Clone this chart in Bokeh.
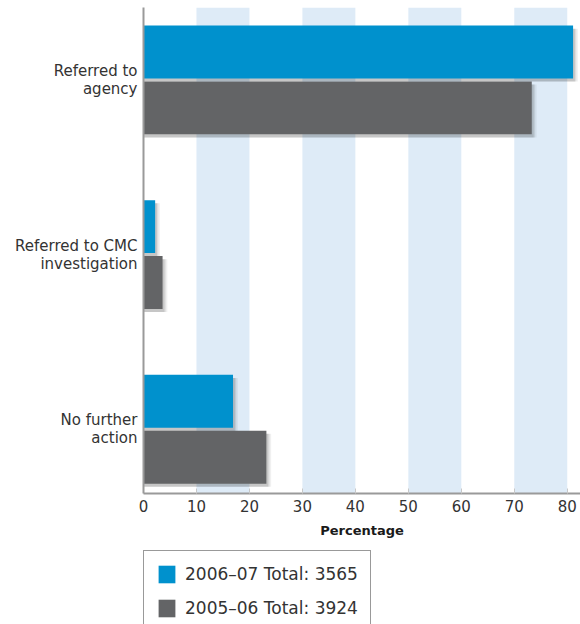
import numpy as np
from bokeh.plotting import figure
from bokeh.layouts import column
from bokeh.models import (Range1d, FixedTicker, BoxAnnotation, Legend, LegendItem)
from bokeh.embed import file_html
from bokeh.resources import INLINE

# ---- data ----
categories = ["Referred to\nagency", "Referred to CMC\ninvestigation", "No further\naction"]
series_names = ["2006\u201307 Total: 3565", "2005\u201306 Total: 3924"]
values_2006_07 = [81.1, 2.2, 16.9]
values_2005_06 = [73.3, 3.6, 23.2]
x_ticks = [0, 10, 20, 30, 40, 50, 60, 70, 80]
band_starts = [10, 30, 50, 70]

BLUE = "#0091cd"
GREY = "#636466"
BAND = "#deebf7"
FONT = "DejaVu Sans"

pos = np.arange(len(categories))
offset = 0.16
bar_h = 0.303

p = figure(width=580, height=540, output_backend="svg", toolbar_location=None,
           x_range=Range1d(0, 82.5), y_range=Range1d(2.368, -0.4145),
           min_border_left=143, min_border_right=0, min_border_top=7, min_border_bottom=0)
p.background_fill_color = "white"
p.border_fill_color = "white"
p.outline_line_color = None
p.grid.grid_line_color = None

for b in band_starts:
    p.add_layout(BoxAnnotation(left=b, right=b + 10, fill_color=BAND, fill_alpha=1.0,
                               line_color=None, level="underlay"))

# soft shadows
for k, a in [(0.9, 0.06), (0.6, 0.08), (0.35, 0.10)]:
    p.hbar(y=pos - offset + 0.018, left=0, right=np.array(values_2006_07) + k,
           height=bar_h, color="black", alpha=a, line_color=None)
    p.hbar(y=pos + offset + 0.018, left=0, right=np.array(values_2005_06) + k,
           height=bar_h, color="black", alpha=a, line_color=None)

p.hbar(y=pos - offset, left=0, right=values_2006_07, height=bar_h,
       color=BLUE, line_color=None)
p.hbar(y=pos + offset, left=0, right=values_2005_06, height=bar_h,
       color=GREY, line_color=None)

# x axis
xa = p.xaxis[0]
xa.ticker = FixedTicker(ticks=x_ticks)
xa.minor_tick_line_color = None
xa.major_tick_in = 5
xa.major_tick_out = 0
xa.major_tick_line_color = "#c8c8c8"
xa.axis_line_color = "#9a9a9a"
xa.axis_line_width = 2
xa.major_label_text_font = FONT
xa.major_label_text_font_size = "15px"
xa.major_label_text_color = "#333333"
xa.major_label_standoff = 6
xa.axis_label = "Percentage"
xa.axis_label_text_font = FONT
xa.axis_label_text_font_size = "13px"
xa.axis_label_text_font_style = "bold"
xa.axis_label_text_color = "#1a1a1a"
xa.axis_label_standoff = 8

# y axis
ya = p.yaxis[0]
ya.ticker = FixedTicker(ticks=list(pos))
ya.major_label_overrides = {int(i): c for i, c in zip(pos, categories)}
ya.minor_tick_line_color = None
ya.major_tick_line_color = None
ya.major_tick_in = 0
ya.major_tick_out = 0
ya.axis_line_color = "#9a9a9a"
ya.axis_line_width = 2
ya.major_label_text_font = FONT
ya.major_label_text_font_size = "15px"
ya.major_label_text_line_height = 1.0
ya.major_label_text_color = "#333333"
ya.major_label_standoff = 6

# legend figure (legend sits below the chart)
lf = figure(width=580, height=84, output_backend="svg", toolbar_location=None,
            x_range=Range1d(0, 1), y_range=Range1d(0, 1),
            min_border_left=142, min_border_right=0, min_border_top=10, min_border_bottom=0)
lf.axis.visible = False
lf.grid.grid_line_color = None
lf.outline_line_color = None
lf.background_fill_color = "white"
lf.border_fill_color = "white"
# legend proxies placed outside the visible range
l1 = lf.quad(left=[5], right=[6], bottom=[5], top=[6], fill_color=BLUE, line_color=None)
l2 = lf.quad(left=[5], right=[6], bottom=[5], top=[6], fill_color=GREY, line_color=None)

legend = Legend(items=[LegendItem(label=series_names[0], renderers=[l1]),
                       LegendItem(label=series_names[1], renderers=[l2])],
                location="top_left", orientation="vertical",
                glyph_width=21, glyph_height=22, label_height=22, spacing=12,
                padding=12, margin=0, label_standoff=8,
                label_text_font=FONT, label_text_font_size="17px",
                label_text_color="#333333",
                border_line_color="#333333", border_line_width=1.5,
                background_fill_color="white", background_fill_alpha=1.0)
lf.add_layout(legend, "center")

open("out.html", "w").write(file_html(column(p, lf, spacing=0), INLINE))
